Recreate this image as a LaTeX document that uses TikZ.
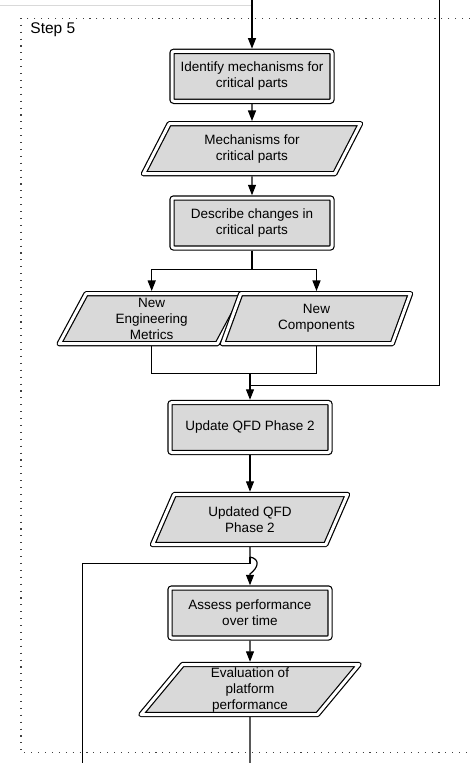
\documentclass[tikz,border=0pt]{standalone}
\usepackage{fontspec}
\setmainfont{Liberation Sans}
\usetikzlibrary{arrows.meta,shapes.geometric}
\definecolor{boxgray}{RGB}{217,217,217}

\begin{document}
\begin{tikzpicture}[x=1pt, y=-1pt, line width=1.2pt,
    every node/.style={font=\fontsize{13.5}{16}\selectfont, align=center},
    procbox/.style={draw, double, double distance=3pt, fill=boxgray, rounded corners=2pt, minimum width=160pt, minimum height=50pt, inner sep=0pt, outer sep=2.7pt},
    databox/.style={draw, double, double distance=3pt, fill=boxgray, line join=round, trapezium, trapezium stretches body, trapezium left angle=#1, trapezium right angle={180-#1}, minimum height=50pt, inner sep=0pt, outer sep=2.7pt},
    flow/.style={-{Triangle[length=10.5pt,width=8pt]}},
    stepframe/.style={line width=1.1pt, black!75, dash pattern=on 1.1pt off 5.8pt}]

\useasboundingbox (0,0) rectangle (470,763);

% frame of the step and its title
\draw[gray!30, line width=0.8pt] (0,5) -- (251,5);
\draw[stepframe] (470,18.3) -| (21,752.7) -- (470,752.7);
\node[anchor=base west, font=\fontsize{15.5}{18}\selectfont] (steptitle) at (26.5,33.3) {Step 5};

% tasks and their outputs
\node[procbox] (identify) at (252,76.3) {Identify mechanisms for\\critical parts};
\node[databox=48, minimum width=217pt] (mechanisms) at (252,148.7) {Mechanisms for\\critical parts};
\node[procbox] (describe) at (252,223) {Describe changes in\\critical parts};
\node[databox=57, minimum width=185pt] (newmetrics) at (151.7,318.7) {New\\Engineering\\Metrics};
\node[databox=57, minimum width=188pt] (newcomps) at (316.5,318.7) {New\\Components};
\node[procbox] (updqfd) at (250,427.5) {Update QFD Phase 2};
\node[databox=50, minimum width=195pt] (updated) at (250,519.5) {Updated QFD\\Phase 2};
\node[procbox] (assess) at (250,613) {Assess performance\\over time};
\node[databox=47, minimum width=218pt] (evaluation) at (250,689.5) {Evaluation of\\platform\\performance};

% loose ends and bends
\coordinate (fromabove) at (252,0);
\coordinate (fromright) at (439.3,0);
\coordinate (split) at (252,269.3);
\coordinate (merge) at (250,373.3);
\coordinate (rejoin) at (250,385.7);
\coordinate (hoptop) at (250,557);
\coordinate (hopjoin) at (250,563.3);
\coordinate (hopbot) at (250,574);
\coordinate (loopback) at (82.7,763);
\coordinate (tonext) at (250,763);

\draw[flow] (fromabove) -- (identify);
\draw[flow] (identify) -- (mechanisms);
\draw[flow] (mechanisms) -- (describe);
\draw (describe) -- (split);
\draw[flow] (split) -| (newmetrics);
\draw[flow] (split) -| (newcomps);
\draw (newmetrics) |- (merge);
\draw (newcomps) |- (merge);
\draw[flow] (merge) -- (updqfd);
\draw (fromright) |- (rejoin);
\draw[flow] (updqfd) -- (updated);
\draw[flow] (updated) -- (hoptop) .. controls +(10,2) and +(9,-7) .. (hopbot) -- (assess);
\draw (loopback) |- (hopjoin) -- (hoptop);
\draw[flow] (assess) -- (evaluation);
\draw (evaluation) -- (tonext);
\end{tikzpicture}
\end{document}
